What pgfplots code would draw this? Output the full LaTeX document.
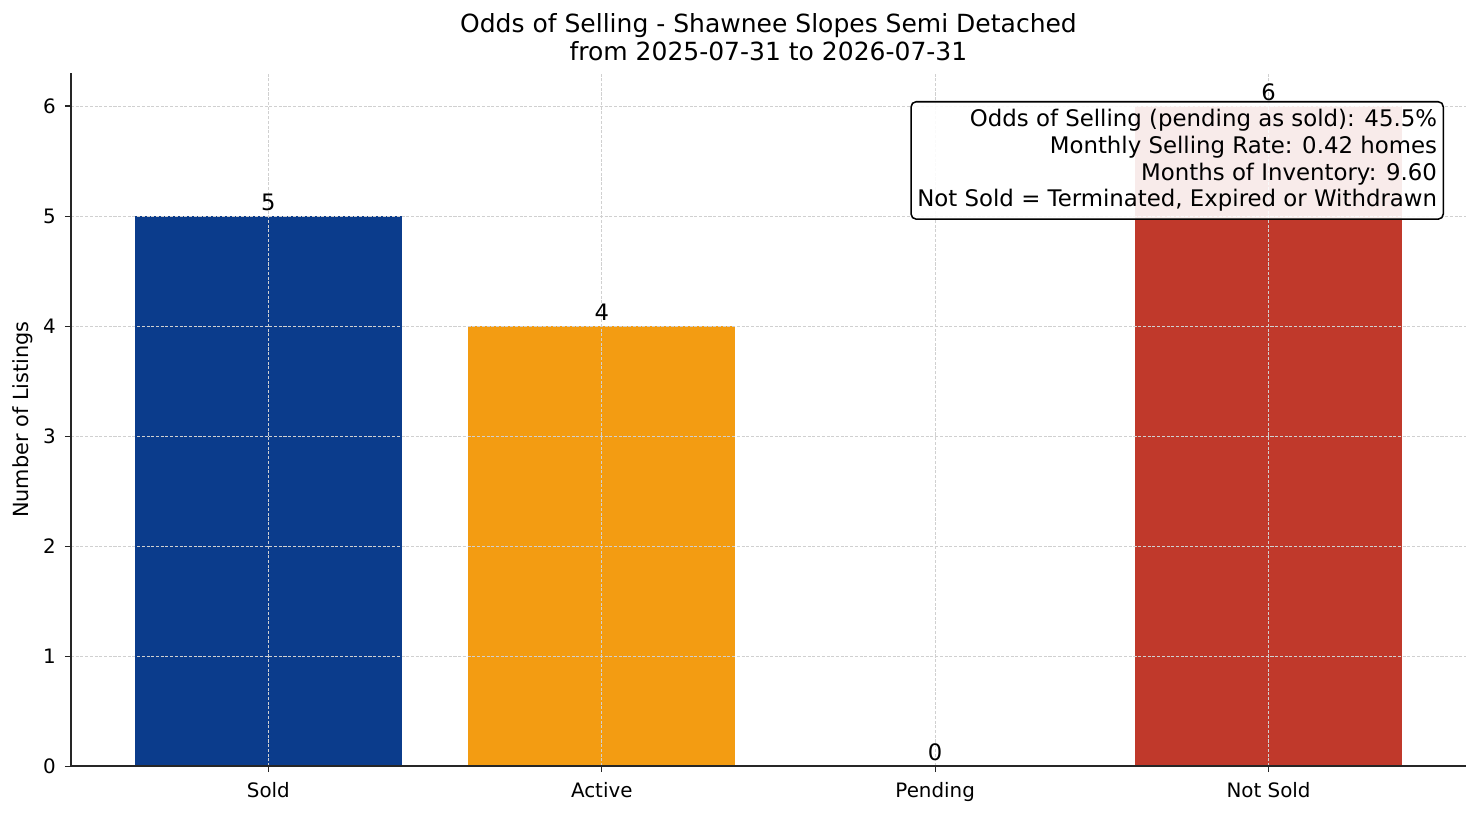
\documentclass[border=0pt]{standalone}
\usepackage{fontspec}
\setmainfont{DejaVu Sans}
\usepackage{pgfplots}
\pgfplotsset{compat=1.18}

\definecolor{soldblue}{HTML}{0B3C8C}
\definecolor{activeorange}{HTML}{F39C12}
\definecolor{pendgreen}{HTML}{27AE60}
\definecolor{notsoldred}{HTML}{C0392B}
\definecolor{gridgray}{HTML}{D0D0D0}

\begin{document}
\begin{tikzpicture}
\path[use as bounding box] (-51.1pt,-36pt) rectangle (1015.2pt,551.6pt);
\begin{axis}[
  at={(0,0)}, anchor=south west,
  scale only axis, width=1004.4pt, height=499pt,
  xmin=-0.592, xmax=3.592, ymin=0, ymax=6.3,
  axis x line*=bottom, axis y line*=left,
  axis line style={line width=0.9pt, color=black!85},
  xtick={0,1,2,3}, xticklabels={Sold,Active,Pending,Not Sold},
  ytick={0,...,6},
  tick align=outside, major tick length=4.4pt,
  tick style={line width=0.8pt, black!85},
  grid=major,
  major grid style={gridgray, line width=0.45pt, dash pattern=on 2.2pt off 1.2pt},
  axis on top,
  ticklabel style={font=\fontsize{14.3}{17}\selectfont},
  xticklabel style={inner sep=0pt, yshift=-7pt},
  yticklabel style={inner sep=0pt, xshift=-6.4pt},
  /pgf/number format/assume math mode=true,
  ylabel={Number of Listings},
  ylabel style={font=\fontsize{15}{18}\selectfont, at={(axis description cs:-0.0344,0.5)}, anchor=center},
  ybar, bar width=0.8, bar shift=0pt,
  nodes near coords,
  nodes near coords style={font=\fontsize{16.3}{19}\selectfont, anchor=south, inner sep=0pt, yshift=3.8pt, text=black},
  every axis plot/.append style={draw=none},
]
\addplot[fill=soldblue] coordinates {(0,5)};
\addplot[fill=activeorange] coordinates {(1,4)};
\addplot[fill=pendgreen] coordinates {(2,0)};
\addplot[fill=notsoldred] coordinates {(3,6)};
\coordinate (titlepos) at (rel axis cs:0.5,1);
\coordinate (boxne) at (rel axis cs:0.98427,0.9597);
\end{axis}
\node[anchor=south, yshift=8.6pt, align=center, inner sep=0pt, font=\fontsize{18}{20.5}\selectfont]
  at (titlepos) {Odds of Selling - Shawnee Slopes Semi Detached\\from 2025-07-31 to 2026-07-31};
\node[anchor=north east, draw=black, line width=1.1pt, rounded corners=3.6pt,
  fill=white, fill opacity=0.9, text opacity=1, inner xsep=4.5pt, inner ysep=5.5pt,
  align=right, font=\fontsize{16.45}{19.2}\selectfont] at (boxne)
  {Odds of Selling (pending as sold): 45.5\%\\Monthly Selling Rate: 0.42 homes\\Months of Inventory: 9.60\\Not Sold = Terminated, Expired or Withdrawn};
\end{tikzpicture}
\end{document}
